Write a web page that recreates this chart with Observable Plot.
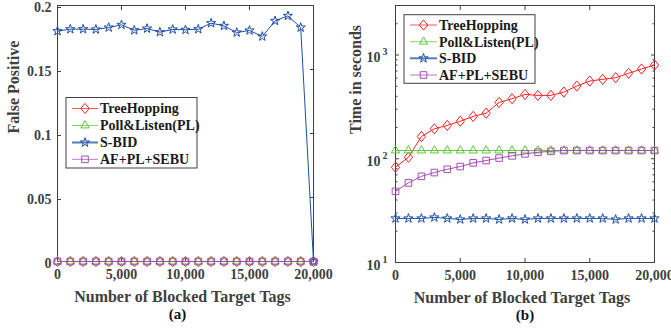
<!DOCTYPE html>
<html>
<head>
<meta charset="utf-8">
<script src="https://cdn.jsdelivr.net/npm/d3@7"></script>
<script src="https://cdn.jsdelivr.net/npm/@observablehq/plot@0.6"></script>
<style>
  html, body { margin: 0; padding: 0; background: #fff; overflow: hidden; }
  #fig { position: relative; width: 671px; height: 329px; }
  #fig > svg { position: absolute; top: 0; }
</style>
</head>
<body>
<div id="fig"></div>
<script>
// Number of blocked target tags (x values shared by both panels)
const tags = [0, 1000, 2000, 3000, 4000, 5000, 6000, 7000, 8000, 9000, 10000,
              11000, 12000, 13000, 14000, 15000, 16000, 17000, 18000, 19000, 20000];
const xTicks = [0, 5000, 10000, 15000, 20000];

// Series names
const seriesNames = ["TreeHopping", "Poll&Listen(PL)", "S-BID", "AF+PL+SEBU"];

// (a) False positive rate
const fpTreeHopping = [0, 0, 0, 0, 0, 0, 0, 0, 0, 0, 0, 0, 0, 0, 0, 0, 0, 0, 0, 0, 0];
const fpPollListen  = [0, 0, 0, 0, 0, 0, 0, 0, 0, 0, 0, 0, 0, 0, 0, 0, 0, 0, 0, 0, 0];
const fpSBID        = [0.1800, 0.1815, 0.1815, 0.1813, 0.1828, 0.1849, 0.1807, 0.1820, 0.1792, 0.1813, 0.1810,
                       0.1815, 0.1862, 0.1841, 0.1789, 0.1805, 0.1758, 0.1880, 0.1919, 0.1828, 0];
const fpAFPLSEBU    = [0, 0, 0, 0, 0, 0, 0, 0, 0, 0, 0, 0, 0, 0, 0, 0, 0, 0, 0, 0, 0];
const fpTicks = [0, 0.05, 0.1, 0.15, 0.2];

// (b) Time in seconds
const tTreeHopping = [82.8, 103.4, 163.9, 194.5, 209.4, 230, 256, 275, 349, 379, 417,
                      408, 408, 439, 502, 561, 583, 605, 666, 733, 800];
const tPollListen  = [120, 120, 120, 120, 120, 120, 120, 120, 120, 120, 120,
                      120, 120, 120, 120, 120, 120, 120, 120, 120, 120];
const tSBID        = [26.6, 26.6, 26.6, 27.2, 26.6, 26.0, 26.6, 26.6, 26.0, 26.6, 26.0,
                      26.6, 26.6, 26.6, 26.6, 26.6, 26.6, 26.0, 26.6, 26.6, 26.6];
const tAFPLSEBU    = [48.5, 58.5, 67.7, 73.6, 79.2, 84.1, 91.3, 96.1, 101.6, 106.6, 111.4,
                      115.6, 117.8, 120, 120, 120, 120, 120, 120, 120, 120];
const timeMajorTicks = [10, 100, 1000];
const timeMinorTicks = [20, 30, 40, 50, 60, 70, 80, 90, 200, 300, 400, 500, 600, 700, 800, 900, 2000, 3000];

// Marker shapes: an open diamond slightly taller than wide (like MATLAB's 'd')
const tallDiamond = {
  draw(context, size) {
    const h = Math.sqrt(size) * 0.72, w = h * 0.82;
    context.moveTo(0, -h);
    context.lineTo(w, 0);
    context.lineTo(0, h);
    context.lineTo(-w, 0);
    context.closePath();
  }
};

const styles = [
  {color: "#ff2020", symbol: tallDiamond,       r: 4.0, width: 1},
  {color: "#5fc83a", symbol: d3.symbolTriangle2, r: 4.0, width: 1},
  {color: "#1f4fa3", symbol: d3.symbolStar,      r: 2.9, width: 1},
  {color: "#a34db3", symbol: d3.symbolSquare2,   r: 4.2, width: 1}
];

function rows(values) {
  return tags.map((t, i) => ({tag: t, value: values[i]}));
}

function seriesMarks(valueArrays) {
  const marks = [];
  valueArrays.forEach((vals, k) => {
    const s = styles[k];
    const data = rows(vals);
    marks.push(Plot.line(data, {x: "tag", y: "value", stroke: s.color, strokeWidth: s.width}));
    marks.push(Plot.dot(data, {x: "tag", y: "value", symbol: () => s.symbol, r: s.r,
                               stroke: s.color, fill: "none", strokeWidth: 1}));
  });
  return marks;
}

const font = "'Liberation Serif', 'Times New Roman', serif";
const baseStyle = {fontFamily: font, fontWeight: "bold", fontSize: "14px",
                   color: "#404040", background: "transparent", overflow: "visible"};
const axisGray = "#404040";

// Legend box drawn inside a panel
function addLegend(svg, {x0, x1, y0, y1, itemYs, lineX0, lineX1, textX}) {
  const g = d3.select(svg).append("g").attr("text-anchor", "start");
  g.append("rect").attr("x", x0).attr("y", y0).attr("width", x1 - x0).attr("height", y1 - y0)
    .attr("fill", "#fff").attr("stroke", axisGray).attr("stroke-width", 1);
  seriesNames.forEach((name, k) => {
    const s = styles[k];
    const y = itemYs[k];
    g.append("line").attr("x1", lineX0).attr("x2", lineX1).attr("y1", y).attr("y2", y)
      .attr("stroke", s.color).attr("stroke-width", k === 2 ? 2 : 1).attr("stroke-opacity", 0.75);
    g.append("path").attr("transform", `translate(${(lineX0 + lineX1) / 2},${y})`)
      .attr("d", d3.symbol(s.symbol, Math.PI * s.r * s.r)())
      .attr("fill", "none").attr("stroke", s.color).attr("stroke-width", 1);
    g.append("text").attr("x", textX).attr("y", y).attr("dy", "0.35em")
      .attr("text-anchor", "start")
      .attr("font-family", font).attr("font-weight", "bold").attr("font-size", 14)
      .attr("fill", "#1a1a1a").text(name);
  });
}

// Panel (a): false positive
const plotA = Plot.plot({
  width: 340, height: 329,
  marginLeft: 57, marginRight: 27, marginTop: 5, marginBottom: 68,
  style: baseStyle,
  x: {domain: [0, 20000]},
  y: {domain: [0, 0.2]},
  marks: [
    Plot.frame({stroke: axisGray}),
    Plot.axisX({anchor: "bottom", ticks: xTicks, tickSize: -4, tickPadding: 12,
                tickFormat: d3.format(","), label: null, stroke: axisGray}),
    Plot.axisX({anchor: "top", ticks: xTicks, tickSize: -4, tickFormat: () => "", label: null, stroke: axisGray}),
    Plot.axisY({anchor: "left", ticks: fpTicks, tickSize: -4, tickPadding: 10, dy: 2,
                tickFormat: d => String(d), label: null, stroke: axisGray}),
    Plot.axisY({anchor: "right", ticks: fpTicks, tickSize: -4, tickFormat: () => "", label: null, stroke: axisGray}),
    ...seriesMarks([fpTreeHopping, fpPollListen, fpSBID, fpAFPLSEBU]),
    Plot.text(["Number of Blocked Target Tags"], {frameAnchor: "bottom", dy: 35, dx: -3,
              fontSize: 16, fill: "#404040", lineAnchor: "middle"}),
    Plot.text(["(a)"], {frameAnchor: "bottom", dy: 53, dx: -8, fontSize: 15, fill: "#111", lineAnchor: "middle"}),
    Plot.text(["False Positive"], {frameAnchor: "left", dx: -44, rotate: -90, fontSize: 16,
              fill: "#404040", lineAnchor: "middle"})
  ]
});
plotA.style.left = "0px";
addLegend(plotA, {x0: 66, x1: 197, y0: 97.5, y1: 168, itemYs: [108.5, 125.5, 142.5, 159.3],
                  lineX0: 72, lineX1: 98, textX: 100});

// Panel (b): time in seconds (log scale)
const plotB = Plot.plot({
  width: 331, height: 329,
  marginLeft: 55, marginRight: 17, marginTop: 5, marginBottom: 67,
  style: baseStyle,
  x: {domain: [0, 20000]},
  y: {type: "log", domain: [10, 3000]},
  marks: [
    Plot.frame({stroke: axisGray}),
    Plot.axisX({anchor: "bottom", ticks: xTicks, tickSize: -4, tickPadding: 12,
                tickFormat: d3.format(","), label: null, stroke: axisGray}),
    Plot.axisX({anchor: "top", ticks: xTicks, tickSize: -4, tickFormat: () => "", label: null, stroke: axisGray}),
    Plot.axisY({anchor: "left", ticks: timeMajorTicks, tickSize: -4, tickFormat: () => "", label: null, stroke: axisGray}),
    Plot.axisY({anchor: "left", ticks: timeMinorTicks, tickSize: -2.5, tickFormat: () => "", label: null, stroke: axisGray}),
    Plot.axisY({anchor: "right", ticks: timeMajorTicks, tickSize: -4, tickFormat: () => "", label: null, stroke: axisGray}),
    Plot.axisY({anchor: "right", ticks: timeMinorTicks, tickSize: -2.5, tickFormat: () => "", label: null, stroke: axisGray}),
    // decade labels written as 10 with a raised exponent
    Plot.text(timeMajorTicks, {y: d => d, text: () => "10", frameAnchor: "left", dx: -15, dy: 3,
              textAnchor: "end", fontSize: 14, fill: "#404040"}),
    Plot.text(timeMajorTicks, {y: d => d, text: d => String(Math.round(Math.log10(d))), frameAnchor: "left",
              dx: -8, dy: -3, textAnchor: "end", fontSize: 10, fill: "#404040"}),
    ...seriesMarks([tTreeHopping, tPollListen, tSBID, tAFPLSEBU]),
    Plot.text(["Number of Blocked Target Tags"], {frameAnchor: "bottom", dy: 35, dx: -3,
              fontSize: 16, fill: "#404040", lineAnchor: "middle"}),
    Plot.text(["(b)"], {frameAnchor: "bottom", dy: 53, fontSize: 15, fill: "#111", lineAnchor: "middle"}),
    Plot.text(["Time in seconds"], {frameAnchor: "left", dx: -40, rotate: -90, fontSize: 16,
              fill: "#404040", lineAnchor: "middle"})
  ]
});
plotB.style.left = "340px";
addLegend(plotB, {x0: 64, x1: 195, y0: 14.7, y1: 83.3, itemYs: [25, 41.7, 58.3, 75],
                  lineX0: 70, lineX1: 97, textX: 99});

const fig = document.getElementById("fig");
fig.appendChild(plotA);
fig.appendChild(plotB);
</script>
</body>
</html>
